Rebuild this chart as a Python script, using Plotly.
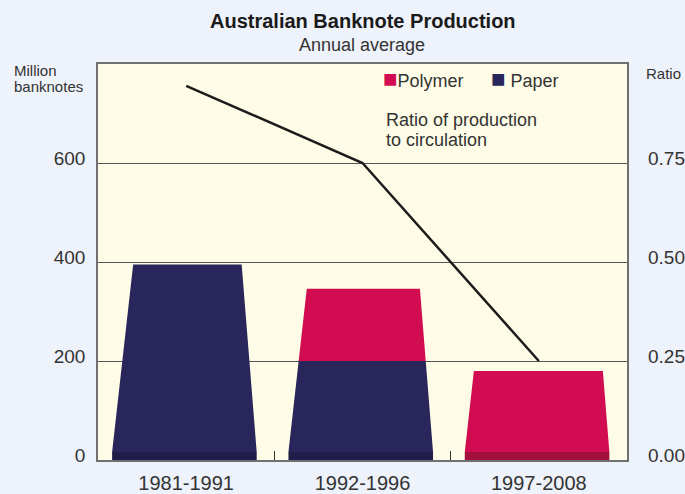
import plotly.graph_objects as go

periods = ["1981-1991", "1992-1996", "1997-2008"]
paper = [395, 200, 0]
polymer = [0, 146, 180]
ratio = [0.945, 0.75, 0.25]

PAPER = "#29265b"
PAPER_DARK = "#211d4b"
POLY = "#d10c50"
POLY_DARK = "#a20f3d"
FONT = "Arial, Liberation Sans, sans-serif"
TXT = "#333333"

# bar look: trapezoid sitting on a darker slab
base = 16
hw_l, hw_r = 0.42, 0.40
kl, kr = 0.000315, 0.000225


def trapezoids(lo, hi):
    xs, ys = [], []
    for i, (a, b) in enumerate(zip(lo, hi)):
        if b <= a:
            continue
        a2, b2 = max(a, base), max(b, base)
        xs += [i - hw_l + kl * (a2 - base), i + hw_r - kr * (a2 - base),
               i + hw_r - kr * (b2 - base), i - hw_l + kl * (b2 - base),
               i - hw_l + kl * (a2 - base), None]
        ys += [a2, a2, b2, b2, a2, None]
    return xs, ys


def slabs(lo, hi):
    xs, ys = [], []
    for i, (a, b) in enumerate(zip(lo, hi)):
        if b <= a or a >= base:
            continue
        xs += [i - hw_l, i + hw_r, i + hw_r, i - hw_l, i - hw_l, None]
        ys += [0, 0, base, base, 0, None]
    return xs, ys


fig = go.Figure()
zero = [0] * len(periods)
top = [p + q for p, q in zip(paper, polymer)]

for lo, hi, col, dark in [(zero, paper, PAPER, PAPER_DARK),
                          (paper, top, POLY, POLY_DARK)]:
    x, y = trapezoids(lo, hi)
    fig.add_trace(go.Scatter(x=x, y=y, fill="toself", fillcolor=col, mode="lines",
                             line=dict(width=0, color=col), showlegend=False, hoverinfo="skip"))
    x, y = slabs(lo, hi)
    fig.add_trace(go.Scatter(x=x, y=y, fill="toself", fillcolor=dark, mode="lines",
                             line=dict(width=0, color=dark), showlegend=False, hoverinfo="skip"))

fig.add_trace(go.Scatter(x=list(range(len(periods))), y=ratio, yaxis="y2", mode="lines",
                         line=dict(color="#1c1c1c", width=2.5), showlegend=False))

fig.update_layout(
    width=685, height=494,
    margin=dict(l=98, r=58, t=64, b=34),
    paper_bgcolor="#eef2fa",
    plot_bgcolor="#fefce6",
    font=dict(family=FONT, color=TXT, size=19),
    xaxis=dict(range=[-0.5, 2.5], tickvals=[0, 1, 2], ticktext=periods,
               showgrid=False, zeroline=False, showline=True, mirror=True,
               linecolor="#707070", linewidth=1.5, ticks="", automargin=False,
               minor=dict(tickvals=[0.5, 1.5], ticks="inside", ticklen=9,
                          tickcolor=TXT, tickwidth=1),
               tickfont=dict(size=20), ticklabelstandoff=4),
    yaxis=dict(range=[0, 800], tickvals=[0, 200, 400, 600], showgrid=True,
               gridcolor="#555555", gridwidth=1, zeroline=False, automargin=False,
               showline=True, mirror=True, linecolor="#707070", linewidth=1.5,
               ticks="", ticklabelstandoff=7, ticklabelshift=-5, tickfont=dict(size=19)),
    yaxis2=dict(range=[0, 1], overlaying="y", side="right", automargin=False,
                tickvals=[0, 0.25, 0.5, 0.75], tickformat=".2f",
                showgrid=False, zeroline=False, ticks="",
                ticklabelstandoff=20, ticklabelshift=-5, tickfont=dict(size=19)),
)


def note(text, x, y, size, color=TXT, anchor="left"):
    # x, y in page pixels
    fig.add_annotation(text=text, xref="paper", yref="paper",
                       x=(x - 98) / 529, y=1 - (y - 64) / 396,
                       xanchor=anchor, yanchor="middle", showarrow=False,
                       font=dict(size=size, color=color, family=FONT))


note("<b>Australian Banknote Production</b>", 363, 21, 20, "#1a1a1a", "center")
note("Annual average", 362, 45, 18, TXT, "center")
note("Million", 12, 71, 15)
note("banknotes", 12, 86, 15)
note("Ratio", 644, 73, 15)

# legend
sq = "<span style='font-size:24px'>■</span>"
note(f"<span style='color:{POLY}'>{sq}</span>Polymer", 381, 79, 18)
note(f"<span style='color:{PAPER}'>{sq}</span> Paper", 489, 79, 18)
note("Ratio of production", 384, 120, 18)
note("to circulation", 384, 140, 18)

fig.write_html("out.html", config={"displayModeBar": False},
               post_script="document.body.style.margin='0px';")
